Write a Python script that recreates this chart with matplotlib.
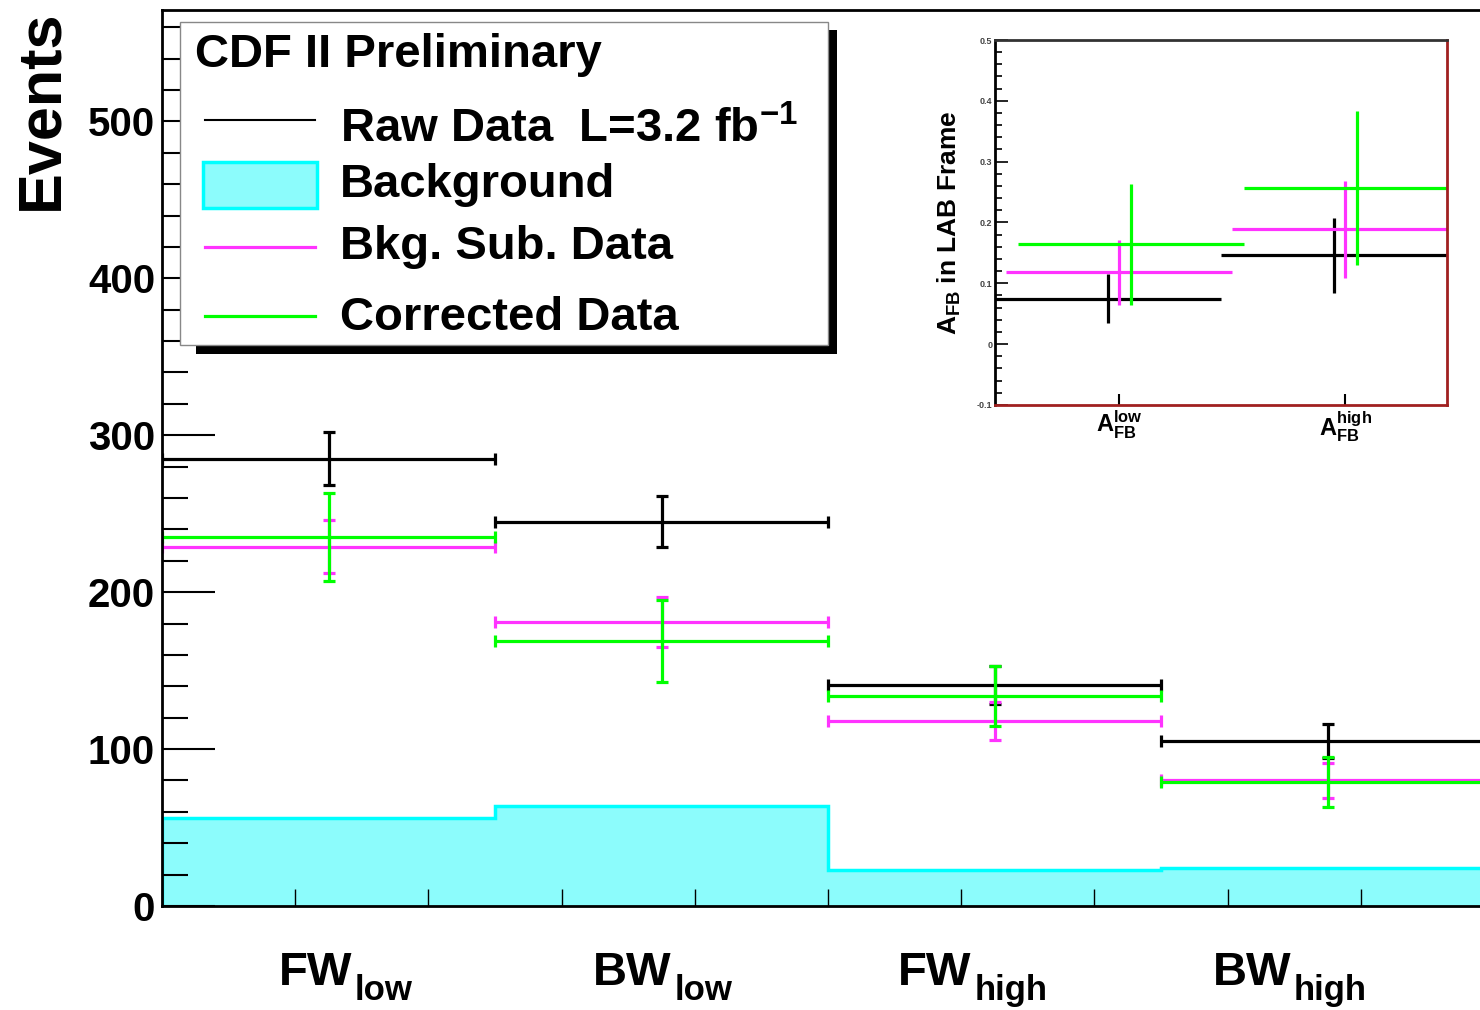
import numpy as np
import matplotlib
matplotlib.use("Agg")
import matplotlib.pyplot as plt
from matplotlib.patches import Rectangle
from matplotlib.lines import Line2D
from matplotlib.ticker import MultipleLocator, FuncFormatter

plt.rcParams['font.family'] = ['Liberation Sans', 'DejaVu Sans']
plt.rcParams['font.weight'] = 'bold'
plt.rcParams['mathtext.fontset'] = 'custom'
plt.rcParams['mathtext.rm'] = 'Liberation Sans:bold'
plt.rcParams['mathtext.it'] = 'Liberation Sans:bold'
plt.rcParams['mathtext.bf'] = 'Liberation Sans:bold'

# main plot: events per category
cat_main = ['FW', 'BW', 'FW', 'BW']
cat_sub = ['low', 'low', 'high', 'high']
background = [56, 64, 23, 24]
raw = [285, 245, 141, 105]
raw_err = [17, 16, 12, 11]
bkgsub = [229, 181, 118, 80]
bkgsub_err = [17, 16, 12, 11]
corrected = [235, 169, 134, 79]
corrected_err = [28, 26, 19, 16]

# inset: A_FB in LAB frame
afb_labels = [r'$\mathrm{A}_{\mathrm{FB}}^{\mathrm{low}}$', r'$\mathrm{A}_{\mathrm{FB}}^{\mathrm{high}}$']
afb_raw = [0.075, 0.146]
afb_raw_err = [0.040, 0.062]
afb_sub = [0.118, 0.189]
afb_sub_err = [0.053, 0.080]
afb_cor = [0.164, 0.257]
afb_cor_err = [0.100, 0.127]

BLACK = 'black'
MAG = '#ff33ff'
GRN = '#00ff00'
CYAN_FILL = '#8cfcfc'
CYAN = '#00ffff'

W, H = 1480, 1010
fig = plt.figure(figsize=(W/100, H/100), dpi=100)

def fx(p):
    return p / W

def fy(p):
    return 1 - p / H

ax = fig.add_axes([fx(162), 104/H, 1332/W, 896/H])
x = np.arange(len(cat_main)) + 0.5
edges = np.arange(len(cat_main) + 1)
ax.stairs(background, edges, fill=True, facecolor=CYAN_FILL, edgecolor='none')
ax.stairs(background, edges, color=CYAN, lw=2.5)
for vals, errs, col in [(raw, raw_err, BLACK), (bkgsub, bkgsub_err, MAG), (corrected, corrected_err, GRN)]:
    ax.errorbar(x, vals, xerr=0.5, yerr=errs, fmt='none', ecolor=col,
                elinewidth=2.3, capsize=4, capthick=2.3)

ax.set_xlim(0, 4)
ax.set_ylim(0, 571)
ax.xaxis.set_major_locator(MultipleLocator(0.4))
ax.yaxis.set_major_locator(MultipleLocator(100))
ax.yaxis.set_minor_locator(MultipleLocator(20))
ax.tick_params(axis='x', direction='in', length=12, width=1, labelbottom=False)
ax.tick_params(axis='y', which='major', direction='in', length=38, width=1.5,
               labelsize=29, pad=5)
ax.tick_params(axis='y', which='minor', direction='in', length=19, width=1.5)
for s in ax.spines.values():
    s.set_linewidth(2)

# category labels, ROOT-like placement (left edge of each label)
label_left = [0.35, 1.295, 2.21, 3.155]
for i in range(len(cat_main)):
    t = ax.text(label_left[i], -0.088, cat_main[i], transform=ax.get_xaxis_transform(),
                ha='left', va='baseline', fontsize=34)
    ax.annotate(cat_sub[i], xy=(1, 0), xycoords=t, xytext=(2, -4),
                textcoords='offset points', ha='left', va='baseline', fontsize=25)

fig.text(fx(42), fy(110), 'Events', rotation=90, ha='center', va='center', fontsize=44)

# legend drawn by hand (ROOT style with shadow)
fig.add_artist(Rectangle((fx(196), fy(354)), (837-196)/W, (354-30)/H,
                         transform=fig.transFigure, facecolor='black', edgecolor='none'))
fig.add_artist(Rectangle((fx(180), fy(345)), (828-180)/W, (345-22)/H,
                         transform=fig.transFigure, facecolor='white', edgecolor='#888888', lw=1))
LEG_FS = 34
fig.text(fx(195), fy(55), 'CDF II Preliminary', ha='left', va='center', fontsize=LEG_FS)
fig.add_artist(Line2D([fx(205), fx(315)], [fy(120), fy(120)], color=BLACK, lw=1.5))
fig.text(fx(340), fy(130), r'Raw Data  L=3.2 fb$^{\mathrm{-1}}$', ha='left', va='center', fontsize=LEG_FS)
fig.add_artist(Rectangle((fx(203), fy(208)), 114/W, 46/H, transform=fig.transFigure,
                         facecolor=CYAN_FILL, edgecolor=CYAN, lw=2.5))
fig.text(fx(340), fy(185), 'Background', ha='left', va='center', fontsize=LEG_FS)
fig.add_artist(Line2D([fx(205), fx(315)], [fy(247), fy(247)], color=MAG, lw=2.3))
fig.text(fx(340), fy(247), 'Bkg. Sub. Data', ha='left', va='center', fontsize=LEG_FS)
fig.add_artist(Line2D([fx(205), fx(315)], [fy(316), fy(316)], color=GRN, lw=2.3))
fig.text(fx(340), fy(318), 'Corrected Data', ha='left', va='center', fontsize=LEG_FS)

# inset
ins = fig.add_axes([fx(995), fy(405), 452/W, 365/H])
xi = np.arange(len(afb_labels)) + 0.5
for k, (v, e, c) in enumerate([(afb_raw, afb_raw_err, BLACK), (afb_sub, afb_sub_err, MAG),
                                (afb_cor, afb_cor_err, GRN)]):
    ins.errorbar(xi + 0.05 * k, v, xerr=0.5, yerr=e, fmt='none', ecolor=c, elinewidth=2.3)
ins.set_xlim(0, 2)
ins.set_ylim(-0.1, 0.5)
ins.set_xticks(xi + 0.05)
ins.set_xticklabels(afb_labels, fontsize=17)
ins.yaxis.set_major_locator(MultipleLocator(0.1))
ins.yaxis.set_minor_locator(MultipleLocator(0.02))
ins.yaxis.set_major_formatter(FuncFormatter(lambda v, p: f'{v:g}'))
ins.tick_params(axis='x', direction='in', length=8, width=1.5, pad=3)
ins.tick_params(axis='y', which='major', direction='in', length=9, width=1.2,
                labelsize=6.5, pad=2, labelcolor='#444444')
ins.tick_params(axis='y', which='minor', direction='in', length=5, width=1.2)
ins.set_ylabel(r'$\mathrm{A}_{\mathrm{FB}}$ in LAB Frame', fontsize=19,
               fontweight='bold', labelpad=10)
for s in ins.spines.values():
    s.set_linewidth(2)
ins.spines['bottom'].set_color('#a02020')
ins.spines['right'].set_color('#a02020')
ins.spines['top'].set_color('#333333')

fig.savefig('out.png', dpi=100)
